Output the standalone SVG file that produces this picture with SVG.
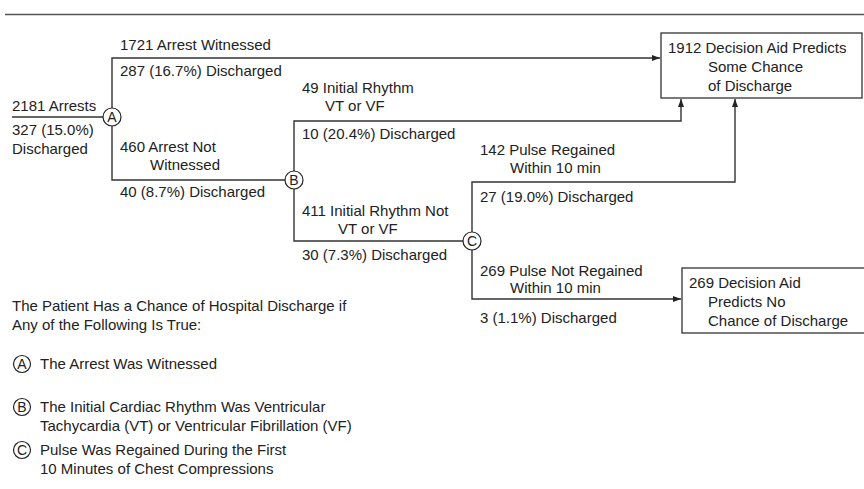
<svg xmlns="http://www.w3.org/2000/svg" width="864" height="489" viewBox="0 0 864 489">
<defs>
<marker id="ah" viewBox="0 0 8 6" refX="8" refY="3" markerWidth="8" markerHeight="6" markerUnits="userSpaceOnUse" orient="auto">
<path d="M0,0 L8,3 L0,6 Z" fill="#222"/>
</marker>
<style>
text{font-family:"Liberation Sans",Arial,sans-serif;font-size:15px;fill:#222}
.ln{fill:none;stroke:#333;stroke-width:1.4}
.arr{fill:none;stroke:#333;stroke-width:1.4;marker-end:url(#ah)}
.box{fill:#fff;stroke:#333;stroke-width:1.3}
.cir{fill:#fff;stroke:#222;stroke-width:1.2}
.cl{font-size:14px;text-anchor:middle}
</style>
</defs>
<rect width="864" height="489" fill="#fff"/>
<line x1="5" y1="14.5" x2="864" y2="14.5" stroke="#555" stroke-width="1.6"/>

<g id="connectors">
<line class="ln" x1="12" y1="117" x2="103" y2="117"/>
<polyline class="arr" points="112,108 112,58 660,58"/>
<polyline class="ln" points="112,126 112,180 285,180"/>
<polyline class="arr" points="294,171 294,121 681,121 681,99"/>
<polyline class="ln" points="294,189 294,241 463,241"/>
<polyline class="arr" points="472,232 472,182 735,182 735,99"/>
<polyline class="arr" points="472,250 472,299 681,299"/>
</g>

<g id="start">
<text x="12" y="111">2181 Arrests</text>
<text x="12" y="135">327 (15.0%)</text>
<text x="12" y="154">Discharged</text>
</g>

<g id="nodeA">
<circle class="cir" cx="112" cy="117" r="9"/>
<text class="cl" x="112" y="122">A</text>
</g>
<g id="nodeB">
<circle class="cir" cx="294" cy="180" r="9"/>
<text class="cl" x="294" y="185">B</text>
</g>
<g id="nodeC">
<circle class="cir" cx="472" cy="241" r="9"/>
<text class="cl" x="472" y="246">C</text>
</g>

<g id="labels">
<text x="120" y="50">1721 Arrest Witnessed</text>
<text x="120" y="76">287 (16.7%) Discharged</text>
<text x="120" y="152">460 Arrest Not</text>
<text x="150" y="170">Witnessed</text>
<text x="120" y="197">40 (8.7%) Discharged</text>
<text x="302" y="93">49 Initial Rhythm</text>
<text x="325" y="111">VT or VF</text>
<text x="302" y="139">10 (20.4%) Discharged</text>
<text x="302" y="216">411 Initial Rhythm Not</text>
<text x="338" y="234">VT or VF</text>
<text x="302" y="260">30 (7.3%) Discharged</text>
<text x="480" y="155">142 Pulse Regained</text>
<text x="510" y="173">Within 10 min</text>
<text x="480" y="202">27 (19.0%) Discharged</text>
<text x="480" y="276">269 Pulse Not Regained</text>
<text x="510" y="293">Within 10 min</text>
<text x="480" y="323">3 (1.1%) Discharged</text>
</g>

<g id="box1">
<rect class="box" x="661" y="33" width="201" height="65"/>
<text x="668" y="53">1912 Decision Aid Predicts</text>
<text x="708" y="72">Some Chance</text>
<text x="708" y="91">of Discharge</text>
</g>

<g id="box2">
<rect class="box" x="682" y="268" width="190" height="65"/>
<text x="689" y="288">269 Decision Aid</text>
<text x="708" y="307">Predicts No</text>
<text x="708" y="326">Chance of Discharge</text>
</g>

<g id="legend">
<text x="12" y="311">The Patient Has a Chance of Hospital Discharge if</text>
<text x="12" y="330">Any of the Following Is True:</text>
<circle class="cir" cx="22" cy="364" r="8.5"/>
<text class="cl" x="22" y="369">A</text>
<text x="40" y="369">The Arrest Was Witnessed</text>
<circle class="cir" cx="22" cy="407" r="8.5"/>
<text class="cl" x="22" y="412">B</text>
<text x="40" y="412">The Initial Cardiac Rhythm Was Ventricular</text>
<text x="40" y="431">Tachycardia (VT) or Ventricular Fibrillation (VF)</text>
<circle class="cir" cx="22" cy="450" r="8.5"/>
<text class="cl" x="22" y="455">C</text>
<text x="40" y="455">Pulse Was Regained During the First</text>
<text x="40" y="474">10 Minutes of Chest Compressions</text>
</g>
</svg>
